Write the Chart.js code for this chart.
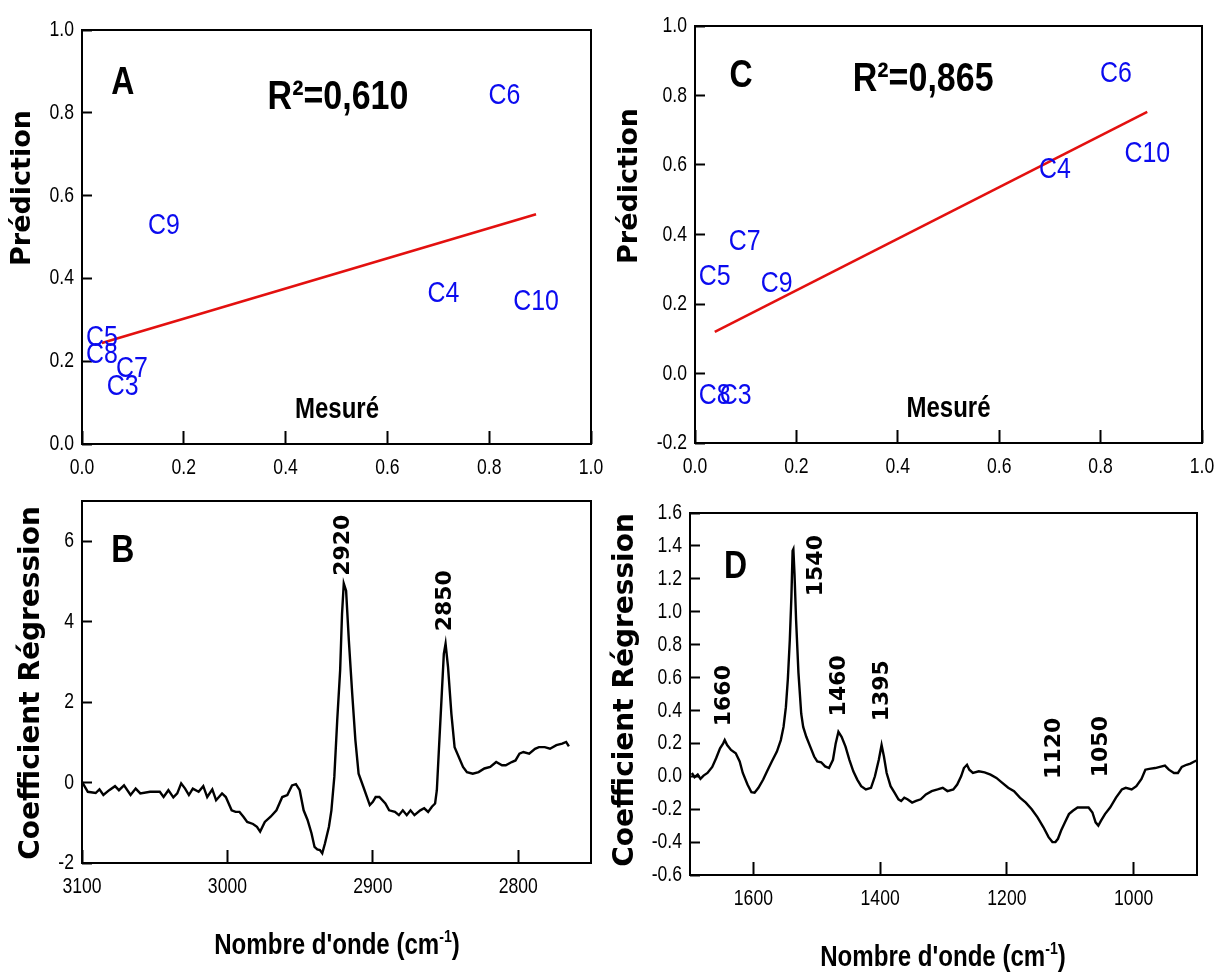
<!DOCTYPE html>
<html>
<head>
<meta charset="utf-8">
<title>PLS – Prédiction et coefficients de régression</title>
<script src="https://cdn.jsdelivr.net/npm/chart.js@4.4.1/dist/chart.umd.min.js"></script>
<style>
  html, body { margin: 0; padding: 0; background: #fff; }
  #wrap { position: relative; width: 1218px; height: 974px; overflow: hidden; background: #fff; }
  #wrap canvas { position: absolute; left: 0; top: 0; }
</style>
</head>
<body>
<div id="wrap">
  <canvas id="chartA" width="1218" height="974"></canvas>
  <canvas id="chartC" width="1218" height="974"></canvas>
  <canvas id="chartB" width="1218" height="974"></canvas>
  <canvas id="chartD" width="1218" height="974"></canvas>
</div>
<script>
// ---------- data ----------
// samples and their measured values (same for both calibration plots)
const sampleNames = ['C3', 'C4', 'C5', 'C6', 'C7', 'C8', 'C9', 'C10'];
const measured    = [0.080, 0.710, 0.039, 0.830, 0.098, 0.039, 0.161, 0.892];
// predicted values: model built on 2750–3100 cm-1 (A) and on 900–1700 cm-1 (C)
const predictedA  = [0.138, 0.364, 0.256, 0.842, 0.183, 0.215, 0.528, 0.343];
const predictedC  = [-0.064, 0.586, 0.278, 0.862, 0.378, -0.064, 0.258, 0.632];
// regression lines (end points)
const fitXA = [0.039, 0.892];
const fitYA = [0.244, 0.555];
const fitXC = [0.039, 0.892];
const fitYC = [0.120, 0.753];
const r2A = '0,610';
const r2C = '0,865';

// tick values
const ticksUnit  = [0, 0.2, 0.4, 0.6, 0.8, 1.0];
const ticksPredC = [-0.2, 0, 0.2, 0.4, 0.6, 0.8, 1.0];
const ticksWnB   = [3100, 3000, 2900, 2800];
const ticksCoefB = [-2, 0, 2, 4, 6];
const ticksWnD   = [1600, 1400, 1200, 1000];
const ticksCoefD = [-0.6, -0.4, -0.2, 0, 0.2, 0.4, 0.6, 0.8, 1.0, 1.2, 1.4, 1.6];

// regression coefficients, 2750–3100 cm-1
const wavenumberB = [3100, 3096.0, 3090.6, 3088.0, 3085.3, 3081.3, 3077.3, 3074.6, 3071.1, 3066.6,
  3063.1, 3059.9, 3053.2, 3046.5, 3043.9, 3040.6, 3037.2, 3034.5, 3031.8, 3029.1,
  3026.5, 3023.8, 3019.8, 3016.6, 3013.9, 3010.4, 3007.8, 3003.7, 3001.1, 2997.1,
  2994.4, 2991.7, 2989.0, 2986.4, 2982.4, 2979.7, 2977.5, 2974.3, 2970.3, 2966.3,
  2962.3, 2958.8, 2955.6, 2952.9, 2950.3, 2947.6, 2944.9, 2942.2, 2940.1, 2938.2,
  2936.4, 2934.8, 2932.9, 2930.2, 2928.5, 2926.5, 2924.5, 2922.5, 2921.2, 2920.0,
  2918.4, 2916.5, 2914.2, 2912.0, 2909.8, 2906.5, 2902.1, 2900.0, 2898.1, 2895.5,
  2891.4, 2888.8, 2884.8, 2882.1, 2879.4, 2876.7, 2874.1, 2871.4, 2867.4, 2864.7,
  2862.0, 2859.4, 2857.2, 2856.0, 2854.5, 2852.6, 2851.2, 2850.0, 2848.3, 2846.0,
  2843.8, 2838.0, 2835.3, 2831.3, 2827.3, 2823.3, 2819.3, 2815.2, 2811.2, 2808.6,
  2804.5, 2801.9, 2799.2, 2796.5, 2792.5, 2788.5, 2785.8, 2781.8, 2778.2, 2773.8,
  2769.8, 2767.1, 2765.2];
const coefB = [0.02, -0.23, -0.26, -0.17, -0.31, -0.19, -0.09, -0.19, -0.07, -0.31,
  -0.15, -0.27, -0.23, -0.23, -0.36, -0.19, -0.37, -0.27, -0.02, -0.15,
  -0.31, -0.15, -0.23, -0.09, -0.36, -0.17, -0.44, -0.27, -0.36, -0.69,
  -0.73, -0.73, -0.85, -0.98, -1.03, -1.10, -1.22, -0.98, -0.85, -0.69,
  -0.36, -0.31, -0.07, -0.04, -0.19, -0.69, -0.93, -1.26, -1.60, -1.66,
  -1.68, -1.76, -1.51, -1.10, -0.69, 0.14, 1.55, 2.79, 4.19, 4.95,
  4.77, 3.53, 2.21, 1.05, 0.22, -0.11, -0.56, -0.48, -0.36, -0.36,
  -0.52, -0.69, -0.73, -0.81, -0.69, -0.81, -0.69, -0.81, -0.69, -0.64,
  -0.73, -0.60, -0.52, -0.19, 0.88, 2.21, 3.20, 3.45, 2.87, 1.71,
  0.88, 0.39, 0.26, 0.22, 0.26, 0.35, 0.39, 0.51, 0.43, 0.43,
  0.51, 0.55, 0.72, 0.76, 0.72, 0.84, 0.88, 0.88, 0.84, 0.93,
  0.97, 1.01, 0.90];
const bandsB = [2920, 2850];

// regression coefficients, 900–1700 cm-1
const wavenumberD = [1697.1, 1692.8, 1687.8, 1683.5, 1678.6, 1672.4, 1664.9, 1658.8, 1652.6, 1647.6,
  1645.2, 1641.4, 1635.3, 1627.8, 1621.6, 1616.7, 1609.3, 1603.1, 1598.1, 1592.0,
  1584.5, 1578.4, 1570.9, 1562.9, 1556.7, 1552.4, 1548.7, 1545.6, 1542.5, 1540.0,
  1538.1, 1536.9, 1535.1, 1532.6, 1528.9, 1524.5, 1521.4, 1516.5, 1510.3, 1504.1,
  1499.2, 1493.0, 1486.8, 1480.6, 1474.4, 1470.1, 1465.8, 1460.8, 1454.6, 1448.5,
  1442.3, 1436.1, 1429.9, 1422.5, 1414.4, 1408.2, 1402.1, 1397.7, 1394.0, 1389.7,
  1383.5, 1377.3, 1371.1, 1366.8, 1361.9, 1356.9, 1349.5, 1343.3, 1335.9, 1327.8,
  1318.6, 1309.3, 1301.2, 1293.8, 1284.5, 1278.4, 1272.2, 1267.8, 1262.9, 1259.2,
  1253.6, 1244.3, 1235.1, 1225.8, 1216.5, 1207.2, 1197.9, 1188.7, 1179.4, 1170.1,
  1160.8, 1151.6, 1142.3, 1134.2, 1128.1, 1123.4, 1119.4, 1114.4, 1108.3, 1102.1,
  1095.9, 1088.5, 1080.4, 1071.1, 1065.0, 1060.0, 1055.7, 1051.4, 1045.2, 1037.1,
  1027.8, 1018.6, 1012.4, 1003.1, 995.7, 987.6, 981.5, 975.3, 966.0, 958.6,
  950.6, 944.4, 936.3, 930.1, 924.0, 916.5, 910.4, 904.2, 899.8];
const coefD = [0.02, -0.006, 0.01, -0.016, 0.004, 0.02, 0.057, 0.11, 0.17, 0.20,
  0.22, 0.19, 0.16, 0.14, 0.09, 0.02, -0.05, -0.097, -0.10, -0.07,
  -0.02, 0.03, 0.09, 0.15, 0.22, 0.30, 0.42, 0.59, 0.83, 1.09,
  1.37, 1.38, 1.23, 0.95, 0.63, 0.38, 0.30, 0.24, 0.18, 0.12,
  0.09, 0.085, 0.06, 0.05, 0.10, 0.20, 0.27, 0.24, 0.18, 0.10,
  0.03, -0.02, -0.06, -0.08, -0.07, 0.0, 0.10, 0.19, 0.12, 0.02,
  -0.06, -0.10, -0.14, -0.15, -0.13, -0.14, -0.16, -0.15, -0.14, -0.11,
  -0.09, -0.08, -0.07, -0.09, -0.08, -0.05, 0.0, 0.05, 0.07, 0.04,
  0.02, 0.03, 0.024, 0.01, -0.01, -0.04, -0.07, -0.09, -0.13, -0.16,
  -0.20, -0.25, -0.31, -0.37, -0.40, -0.40, -0.38, -0.33, -0.28, -0.23,
  -0.21, -0.19, -0.19, -0.19, -0.22, -0.28, -0.30, -0.27, -0.23, -0.19,
  -0.13, -0.08, -0.07, -0.08, -0.06, -0.016, 0.04, 0.045, 0.05, 0.057,
  0.065, 0.04, 0.02, 0.02, 0.057, 0.07, 0.077, 0.09, 0.097];
const bandsD = [1660, 1540, 1460, 1395, 1120, 1050];

// ---------- drawing helpers ----------
const W = 1218, H = 974;
const SANS = "'Liberation Sans', Arial, sans-serif";
const WIDE = "'DejaVu Sans', Verdana, sans-serif";
const RED = '#e3100f';
const BLUE = '#0b0bef';
const NARROW_X = 0.8;   // horizontal squeeze used for the condensed lettering

function points(xs, ys) { return xs.map((x, i) => ({ x: x, y: ys[i] })); }

// black box round the plot area
const framePlugin = {
  id: 'frame',
  afterDatasetsDraw(chart) {
    const a = chart.chartArea, ctx = chart.ctx;
    ctx.save();
    ctx.strokeStyle = '#000';
    ctx.lineWidth = 2;
    ctx.strokeRect(a.left, a.top, a.right - a.left, a.bottom - a.top);
    ctx.restore();
  }
};

// tick labels in condensed lettering, placed from the scales' own ticks
const tickLabelPlugin = {
  id: 'tickLabels',
  afterDraw(chart) {
    const ctx = chart.ctx, a = chart.chartArea;
    const xs = chart.scales.x, ys = chart.scales.y;
    ctx.save();
    ctx.fillStyle = '#000';
    ctx.font = "22px " + SANS;
    ctx.textBaseline = 'middle';
    xs.ticks.forEach(t => {
      ctx.save();
      ctx.translate(xs.getPixelForValue(t.value), a.bottom + 24);
      ctx.scale(NARROW_X, 1);
      ctx.textAlign = 'center';
      ctx.fillText(t.label, 0, 0);
      ctx.restore();
    });
    ys.ticks.forEach(t => {
      ctx.save();
      ctx.translate(a.left - 8, ys.getPixelForValue(t.value));
      ctx.scale(NARROW_X, 1);
      ctx.textAlign = 'right';
      ctx.fillText(t.label, 0, 0);
      ctx.restore();
    });
    ctx.restore();
  }
};

// sample names written at their points
const namePlugin = {
  id: 'sampleNames',
  afterDatasetsDraw(chart) {
    const ctx = chart.ctx;
    chart.data.datasets.forEach((ds, i) => {
      if (!ds.names) return;
      const meta = chart.getDatasetMeta(i);
      ctx.save();
      ctx.font = "30px " + SANS;
      ctx.fillStyle = BLUE;
      ctx.textAlign = 'center';
      ctx.textBaseline = 'middle';
      meta.data.forEach((el, j) => {
        ctx.save();
        ctx.translate(el.x, el.y);
        ctx.scale(0.83, 1);
        ctx.fillText(ds.names[j], 0, 0);
        ctx.restore();
      });
      ctx.restore();
    });
  }
};

// free text: panel letters, R², axis titles, band positions
const textPlugin = {
  id: 'panelText',
  afterDraw(chart, args, opts) {
    const ctx = chart.ctx;
    (opts.items || []).forEach(it => {
      const px = it.data ? chart.scales.x.getPixelForValue(it.x) : it.x;
      const py = it.data ? chart.scales.y.getPixelForValue(it.y) : it.y;
      const parts = it.parts || [{ t: it.text }];
      ctx.save();
      ctx.translate(px, py);
      if (it.rot) ctx.rotate(it.rot);
      if (it.sx) ctx.scale(it.sx, 1);
      ctx.fillStyle = it.color || '#000';
      ctx.textAlign = 'left';
      ctx.textBaseline = 'middle';
      const supFont = it.supFont || it.font;
      let total = 0;
      const widths = parts.map(p => {
        ctx.font = p.sup ? supFont : it.font;
        const w = ctx.measureText(p.t).width;
        total += w;
        return w;
      });
      let x = -total / 2;
      parts.forEach((p, i) => {
        ctx.font = p.sup ? supFont : it.font;
        ctx.fillText(p.t, x, p.sup ? -(it.supRise || 0) : 0);
        x += widths[i];
      });
      ctx.restore();
    });
  }
};

function fmt1(v) { return Math.abs(v) < 1e-9 ? '0.0' : v.toFixed(1); }
function fmt0(v) { return String(Math.round(v)); }

function makeOptions(area, xs, ys, items) {
  const yW = 80, xH = 60;
  return {
    responsive: false,
    animation: false,
    devicePixelRatio: 1,
    events: [],
    layout: { padding: { left: area.left - yW, top: area.top, right: W - area.right, bottom: H - area.bottom - xH } },
    plugins: { legend: { display: false }, tooltip: { enabled: false }, panelText: { items: items } },
    scales: {
      x: {
        type: 'linear', min: xs.min, max: xs.max, reverse: !!xs.reverse,
        afterFit(s) { s.height = xH; },
        afterBuildTicks(s) { s.ticks = xs.ticks.map(v => ({ value: v })); },
        ticks: { display: false, callback: xs.fmt, autoSkip: false },
        grid: { drawOnChartArea: false, drawTicks: true, tickLength: -13, tickWidth: 2, tickColor: '#000' },
        border: { display: false }
      },
      y: {
        type: 'linear', min: ys.min, max: ys.max,
        afterFit(s) { s.width = yW; },
        afterBuildTicks(s) { s.ticks = ys.ticks.map(v => ({ value: v })); },
        ticks: { display: false, callback: ys.fmt, autoSkip: false },
        grid: { drawOnChartArea: false, drawTicks: true, tickLength: -10, tickWidth: 2, tickColor: '#000' },
        border: { display: false }
      }
    }
  };
}

const plugins = [framePlugin, namePlugin, tickLabelPlugin, textPlugin];
const letterFont = "bold 39px " + SANS;
const r2Font = "bold 40px " + SANS;
const mesFont = "bold 30px " + SANS;
const ytitleFont = "bold 27px " + WIDE;
const ytitleFont2 = "bold 28px " + WIDE;
const xtitleFont = "bold 29px " + SANS;
const bandFont = "bold 22px " + WIDE;
const wnTitle = [{ t: "Nombre d'onde (cm" }, { t: "-1", sup: true }, { t: ")" }];
const ROT = -Math.PI / 2;

// ---------- A : prediction, CH region ----------
new Chart(document.getElementById('chartA'), {
  type: 'scatter',
  data: { datasets: [
    { data: points(fitXA, fitYA), showLine: true, borderColor: RED, borderWidth: 2.6, pointRadius: 0, fill: false },
    { data: points(measured, predictedA), showLine: false, pointRadius: 0, names: sampleNames }
  ] },
  options: makeOptions({ left: 82, top: 30, right: 591, bottom: 444 },
    { min: 0, max: 1, ticks: ticksUnit, fmt: fmt1 },
    { min: 0, max: 1, ticks: ticksUnit, fmt: fmt1 },
    [
      { text: 'A', data: true, x: 0.080, y: 0.872, font: letterFont, sx: 0.82 },
      { text: 'R²=' + r2A, data: true, x: 0.503, y: 0.837, font: r2Font, sx: 0.85 },
      { text: 'Mesuré', data: true, x: 0.501, y: 0.083, font: mesFont, sx: 0.8 },
      { text: 'Prédiction', x: 23, y: 188, rot: ROT, font: ytitleFont }
    ]),
  plugins: plugins
});

// ---------- C : prediction, amide / fingerprint region ----------
new Chart(document.getElementById('chartC'), {
  type: 'scatter',
  data: { datasets: [
    { data: points(fitXC, fitYC), showLine: true, borderColor: RED, borderWidth: 2.6, pointRadius: 0, fill: false },
    { data: points(measured, predictedC), showLine: false, pointRadius: 0, names: sampleNames }
  ] },
  options: makeOptions({ left: 695, top: 26, right: 1202, bottom: 443 },
    { min: 0, max: 1, ticks: ticksUnit, fmt: fmt1 },
    { min: -0.2, max: 1, ticks: ticksPredC, fmt: fmt1 },
    [
      { text: 'C', data: true, x: 0.091, y: 0.856, font: letterFont, sx: 0.82 },
      { text: 'R²=' + r2C, data: true, x: 0.450, y: 0.845, font: r2Font, sx: 0.85 },
      { text: 'Mesuré', data: true, x: 0.500, y: -0.102, font: mesFont, sx: 0.8 },
      { text: 'Prédiction', x: 630, y: 186, rot: ROT, font: ytitleFont }
    ]),
  plugins: plugins
});

// ---------- B : regression coefficients 2750–3100 cm-1 ----------
new Chart(document.getElementById('chartB'), {
  type: 'scatter',
  data: { datasets: [
    { data: points(wavenumberB, coefB), showLine: true, borderColor: '#000', borderWidth: 2.4, pointRadius: 0, fill: false, tension: 0 }
  ] },
  options: makeOptions({ left: 82, top: 501, right: 591, bottom: 863 },
    { min: 2750, max: 3100, reverse: true, ticks: ticksWnB, fmt: fmt0 },
    { min: -2, max: 7, ticks: ticksCoefB, fmt: fmt0 },
    [
      { text: 'B', data: true, x: 3072, y: 5.74, font: letterFont, sx: 0.82 },
      { text: String(bandsB[0]), data: true, x: bandsB[0], y: 5.9, rot: ROT, font: bandFont },
      { text: String(bandsB[1]), data: true, x: bandsB[1], y: 4.52, rot: ROT, font: bandFont },
      { text: 'Coefficient Régression', x: 32, y: 683, rot: ROT, font: ytitleFont2 },
      { parts: wnTitle, x: 337, y: 946, font: xtitleFont, supFont: "bold 17px " + SANS, supRise: 9, sx: 0.83 }
    ]),
  plugins: plugins
});

// ---------- D : regression coefficients 900–1700 cm-1 ----------
new Chart(document.getElementById('chartD'), {
  type: 'scatter',
  data: { datasets: [
    { data: points(wavenumberD, coefD), showLine: true, borderColor: '#000', borderWidth: 2.4, pointRadius: 0, fill: false, tension: 0 }
  ] },
  options: makeOptions({ left: 690, top: 513, right: 1197, bottom: 875 },
    { min: 900, max: 1700, reverse: true, ticks: ticksWnD, fmt: fmt0 },
    { min: -0.6, max: 1.6, ticks: ticksCoefD, fmt: fmt1 },
    [
      { text: 'D', data: true, x: 1628, y: 1.27, font: letterFont, sx: 0.82 },
      { text: String(bandsD[0]), data: true, x: 1646, y: 0.49, rot: ROT, font: bandFont },
      { text: String(bandsD[1]), data: true, x: 1501, y: 1.28, rot: ROT, font: bandFont },
      { text: String(bandsD[2]), data: true, x: 1464, y: 0.55, rot: ROT, font: bandFont },
      { text: String(bandsD[3]), data: true, x: 1396, y: 0.52, rot: ROT, font: bandFont },
      { text: String(bandsD[4]), data: true, x: 1125.6, y: 0.17, rot: ROT, font: bandFont },
      { text: String(bandsD[5]), data: true, x: 1051, y: 0.18, rot: ROT, font: bandFont },
      { text: 'Coefficient Régression', x: 626, y: 690, rot: ROT, font: ytitleFont2 },
      { parts: wnTitle, x: 943, y: 958, font: xtitleFont, supFont: "bold 17px " + SANS, supRise: 9, sx: 0.83 }
    ]),
  plugins: plugins
});
</script>
</body>
</html>
